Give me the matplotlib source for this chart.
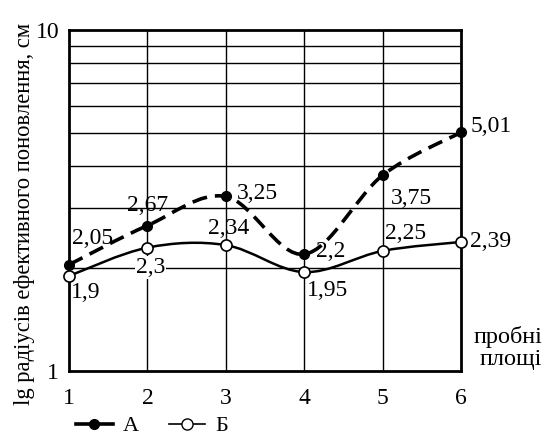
import numpy as np
import matplotlib
matplotlib.use('Agg')
import matplotlib.pyplot as plt
from matplotlib.path import Path
from matplotlib.patches import PathPatch
from matplotlib.lines import Line2D

plt.rcParams['font.family'] = ['Liberation Serif', 'DejaVu Serif']

plots = [1, 2, 3, 4, 5, 6]
series_a = [2.05, 2.67, 3.25, 2.2, 3.75, 5.01]
series_b = [1.9, 2.3, 2.34, 1.95, 2.25, 2.39]
labels_a = ['2,05', '2,67', '3,25', '2,2', '3,75', '5,01']
labels_b = ['1,9', '2,3', '2,34', '1,95', '2,25', '2,39']
# label offsets in pixels from each point
offs_a = [(24, 26), (0, 20), (32, 3), (26, 3), (29, -23), (30, 6)]
offs_b = [(17, -17), (3, -20), (3, 17), (23, -18), (23, 17), (30, 0)]
y_label = 'lg радіусів ефективного поновлення, см'
x_note = 'пробні\nплощі'


def smooth_path(xs, ys, t=0.5):
    # bezier through the points (catmull-rom in log space)
    lx = np.array(xs, float)
    ly = np.log10(ys)
    n = len(lx)
    verts = [(lx[0], ys[0])]
    codes = [Path.MOVETO]
    for i in range(n - 1):
        p0 = i - 1 if i > 0 else i
        p3 = i + 2 if i + 2 < n else i + 1
        c1x = lx[i] + (lx[i + 1] - lx[p0]) * t / 3
        c1y = ly[i] + (ly[i + 1] - ly[p0]) * t / 3
        c2x = lx[i + 1] - (lx[p3] - lx[i]) * t / 3
        c2y = ly[i + 1] - (ly[p3] - ly[i]) * t / 3
        verts += [(c1x, 10 ** c1y), (c2x, 10 ** c2y), (lx[i + 1], ys[i + 1])]
        codes += [Path.CURVE4] * 3
    return Path(verts, codes)


fig = plt.figure(figsize=(5.44, 4.38), dpi=100)
ax = fig.add_axes([69 / 544, 67 / 438, 392 / 544, 341 / 438])
ax.set_yscale('log')
ax.set_xlim(1, 6)
ax.set_ylim(1, 10)

for y in range(2, 10):
    ax.axhline(y, color='black', lw=1.0, zorder=1)
for x in range(2, 6):
    ax.axvline(x, color='black', lw=1.0, zorder=1)

ax.add_patch(PathPatch(smooth_path(plots, series_a), fill=False, ec='black', lw=2.6,
                       ls=(0, (4.2, 2.2)), zorder=3, clip_on=False))
ax.add_patch(PathPatch(smooth_path(plots, series_b), fill=False, ec='black', lw=1.8,
                       zorder=3, clip_on=False))
ax.plot(plots, series_a, 'o', color='black', ms=7, zorder=5, clip_on=False)
ax.plot(plots, series_b, 'o', mfc='white', mec='black', mew=1.2, ms=8, zorder=5, clip_on=False)

for x, y, s, o in zip(plots, series_a, labels_a, offs_a):
    ax.annotate(s, (x, y), xytext=o, textcoords='offset pixels', ha='center', va='center',
                fontsize=17, zorder=6)
for x, y, s, o in zip(plots, series_b, labels_b, offs_b):
    ax.annotate(s, (x, y), xytext=o, textcoords='offset pixels', ha='center', va='center',
                fontsize=17, zorder=6,
                bbox=dict(boxstyle='square,pad=0.05', fc='white', ec='none') if s == '2,3' else None)

for sp in ax.spines.values():
    sp.set_linewidth(2.0)
ax.set_xticks(plots)
ax.set_xticklabels([str(p) for p in plots])
ax.set_yticks([1, 10])
ax.set_yticklabels(['1', '10'])
ax.yaxis.set_minor_locator(matplotlib.ticker.NullLocator())
ax.tick_params(axis='x', length=0, pad=12, labelsize=17)
ax.tick_params(axis='y', length=0, pad=7, labelsize=17)

fig.text(25 / 544, 1 - 214 / 438, y_label, rotation=90, ha='center', va='center', fontsize=16.3)
fig.text(542 / 544, 1 - 348 / 438, x_note, ha='right', va='center', fontsize=17.5,
         multialignment='right', linespacing=1.0)

handles = [Line2D([], [], color='black', lw=2.6, marker='o', ms=7),
           Line2D([], [], color='black', lw=1.2, marker='o', mfc='white', ms=8)]
fig.legend(handles, ['А', 'Б'], loc='center left', bbox_to_anchor=(76 / 544, 1 - 426 / 438),
           ncol=2, frameon=False, fontsize=16, handlelength=1.65, handletextpad=0.45,
           columnspacing=1.35, borderaxespad=0, borderpad=0)

fig.savefig('out.png', dpi=100)
